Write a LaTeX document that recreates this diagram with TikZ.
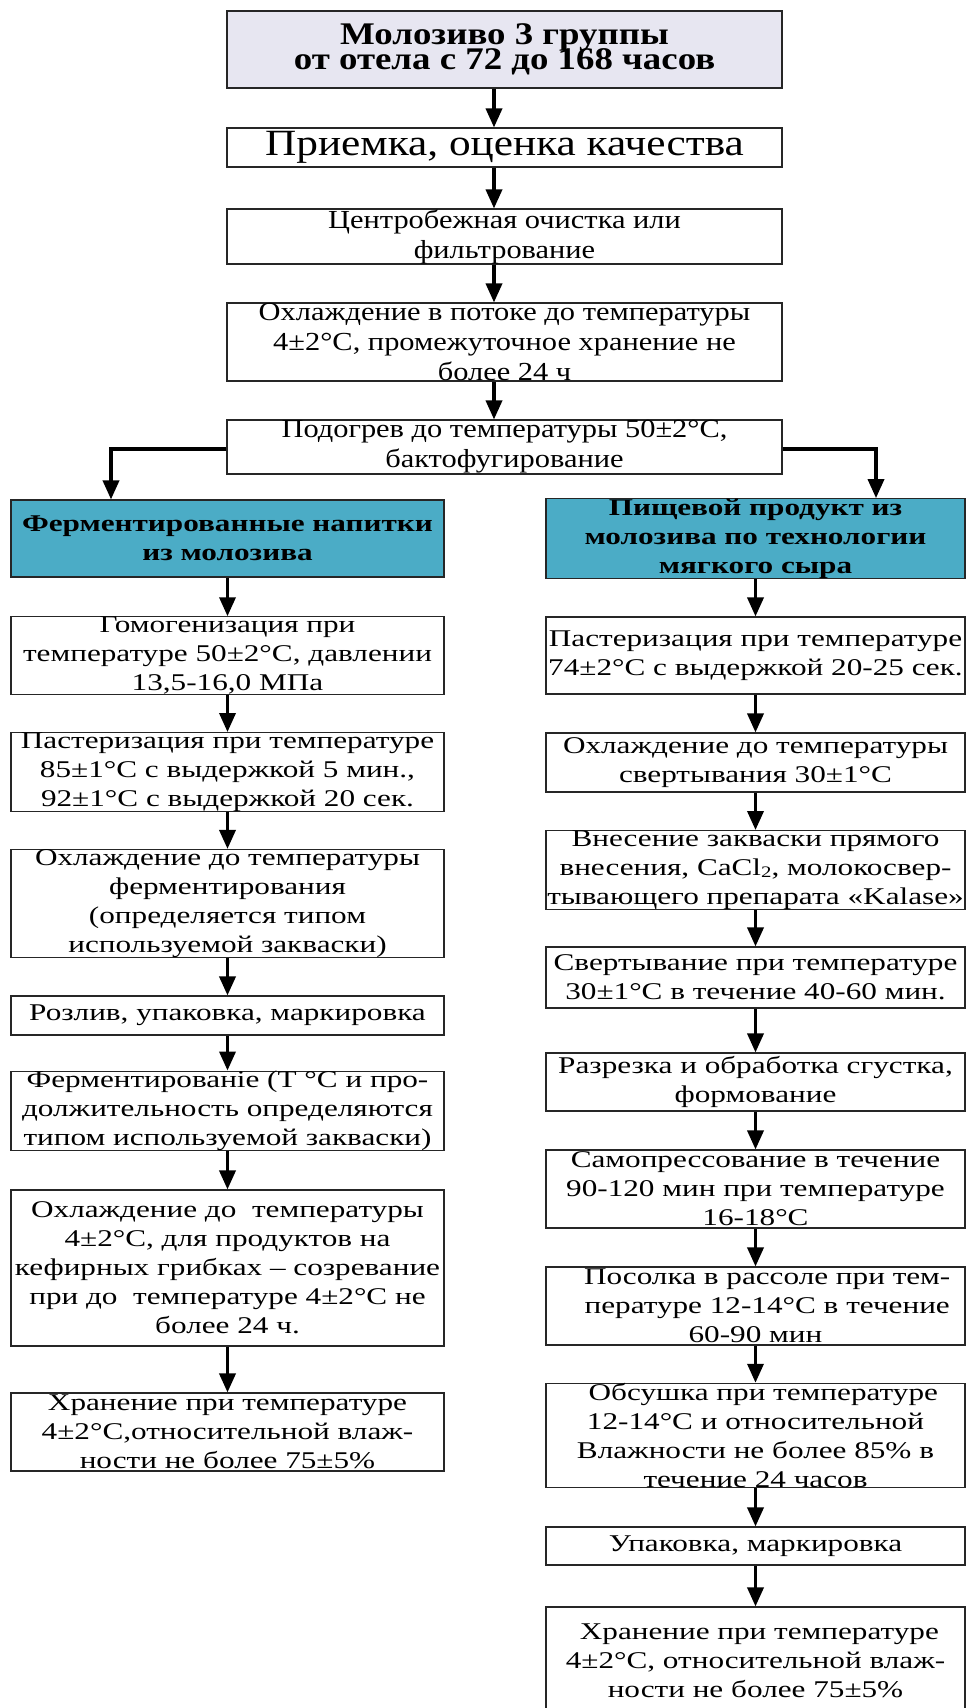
\documentclass[tikz,border=0pt]{standalone}
\usepackage{fontspec}
\setmainfont{Liberation Serif}
\newfontfamily\topfont[FakeStretch=1.17]{Liberation Serif}
\newfontfamily\colfont[FakeStretch=1.3]{Liberation Serif}
\usetikzlibrary{arrows.meta}
\definecolor{titlegray}{RGB}{231,230,241}
\definecolor{branchblue}{RGB}{75,172,198}
\newcommand\tightskip{\lineskiplimit=-40pt\relax}

\begin{document}
\begin{tikzpicture}[x=1pt, y=-1pt]
   \tikzstyle{stepbox}=[draw=black!85, line width=1.1pt, inner sep=0pt, align=center, fill=white]
   \tikzstyle{topstep}=[stepbox, minimum width=555pt, font=\topfont\fontsize{26}{30}\selectfont]
   \tikzstyle{leftstep}=[stepbox, minimum width=433pt, font=\colfont\fontsize{24}{29}\selectfont]
   \tikzstyle{rightstep}=[stepbox, minimum width=419pt, font=\colfont\fontsize{24}{29}\selectfont]
   \tikzstyle{branch}=[fill=branchblue, font=\colfont\bfseries\fontsize{24}{29}\selectfont\tightskip]
   \tikzstyle{arr}=[line width=3.5pt, -{Triangle[width=16pt,length=19pt]}]

\useasboundingbox (0,0) rectangle (966,1708);

% common part
\node[topstep, fill=titlegray, minimum height=77pt, font=\topfont\bfseries\fontsize{31.5}{25}\selectfont\tightskip] (title) at (504.5,49.5) {Молозиво 3 группы\\от отела с 72 до 168 часов};
\node[topstep, minimum height=39pt, font=\topfont\fontsize{37}{40}\selectfont] (recv) at (504.5,147.5) {Приемка, оценка качества};
\node[topstep, minimum height=55pt] (centr) at (504.5,236.5) {Центробежная очистка или\\фильтрование};
\node[topstep, minimum height=78pt] (cool) at (504.5,342) {Охлаждение в потоке до температуры\\4±2°С, промежуточное хранение не\\более 24 ч};
\node[topstep, minimum height=54pt] (heat) at (504.5,447) {Подогрев до температуры 50±2°С,\\бактофугирование};

% fermented drinks
\node[leftstep, branch, minimum height=77pt] (drinks) at (227.5,538.5) {Ферментированные напитки\\из молозива};
\node[leftstep, minimum height=77pt] (homog) at (227.5,655.5) {Гомогенизация при\\температуре 50±2°С, давлении\\13,5-16,0 МПа};
\node[leftstep, minimum height=78pt] (pastL) at (227.5,772) {Пастеризация при температуре\\85±1°С с выдержкой 5 мин.,\\92±1°С с выдержкой 20 сек.};
\node[leftstep, minimum height=107pt] (coolF) at (227.5,903.5) {Охлаждение до температуры\\ферментирования\\(определяется типом\\используемой закваски)};
\node[leftstep, minimum height=39pt] (bottle) at (227.5,1015.5) {Розлив, упаковка, маркировка};
\node[leftstep, minimum height=78pt] (ferm) at (227.5,1111) {Ферментированіе (Т °С и про-\\должительность определяются\\типом используемой закваски)};
\node[leftstep, minimum height=156pt] (coolK) at (227.5,1268) {Охлаждение до\ \ температуры\\4±2°С, для продуктов на\\кефирных грибках – созревание\\при до\ \ температуре 4±2°С не\\более 24 ч.};
\node[leftstep, minimum height=78pt] (storeL) at (227.5,1432) {Хранение при температуре\\4±2°С,относительной влаж-\\ности не более 75±5\%};

% soft cheese
\node[rightstep, branch, minimum height=77pt] (cheese) at (755.5,538.5) {Пищевой продукт из\\молозива по технологии\\мягкого сыра};
\node[rightstep, minimum height=77pt] (pastR) at (755.5,655.5) {Пастеризация при температуре\\74±2°С с выдержкой 20-25 сек.};
\node[rightstep, minimum height=59pt] (coolC) at (755.5,762.5) {Охлаждение до температуры\\свертывания 30±1°С};
\node[rightstep, minimum height=78pt] (starter) at (755.5,870) {Внесение закваски прямого\\внесения, CaCl\raisebox{-2pt}{\fontsize{16}{16}\selectfont 2}, молокосвер-\\тывающего препарата «Kalase»};
\node[rightstep, minimum height=61pt] (curd) at (755.5,977.5) {Свертывание при температуре\\30±1°С в течение 40-60 мин.};
\node[rightstep, minimum height=58pt] (cut) at (755.5,1082) {Разрезка и обработка сгустка,\\формование};
\node[rightstep, minimum height=78pt] (press) at (755.5,1189) {Самопрессование в течение\\90-120 мин при температуре\\16-18°С};
\node[rightstep, minimum height=78pt] (salt) at (755.5,1306) {\ \ \ Посолка в рассоле при тем-\\\ \ \ пературе 12-14°С в течение\\60-90 мин};
\node[rightstep, minimum height=103pt] (dry) at (755.5,1435.5) {\ \ Обсушка при температуре\\12-14°С и относительной\\Влажности не более 85\% в\\течение 24 часов};
\node[rightstep, minimum height=38pt] (pack) at (755.5,1546) {Упаковка, маркировка};
\node[rightstep, minimum height=108pt] (storeR) at (755.5,1661) {\ Хранение при температуре\\4±2°С, относительной влаж-\\ности не более 75±5\%};

% arrows
\draw[arr] ([xshift=-10.5pt]title.south) -- ([xshift=-10.5pt]recv.north);
\draw[arr] ([xshift=-10.5pt]recv.south) -- ([xshift=-10.5pt]centr.north);
\draw[arr] ([xshift=-10.5pt]centr.south) -- ([xshift=-10.5pt]cool.north);
\draw[arr] ([xshift=-10.5pt]cool.south) -- ([xshift=-10.5pt]heat.north);
\draw[arr] ([yshift=-2pt]heat.west) -| ([xshift=-116.5pt]drinks.north);
\draw[arr] ([yshift=-2pt]heat.east) -| ([xshift=120.5pt]cheese.north);

\draw[arr] (drinks) -- (homog);
\draw[arr] (homog) -- (pastL);
\draw[arr] (pastL) -- (coolF);
\draw[arr] (coolF) -- (bottle);
\draw[arr] (bottle) -- (ferm);
\draw[arr] (ferm) -- (coolK);
\draw[arr] (coolK) -- (storeL);

\draw[arr] (cheese) -- (pastR);
\draw[arr] (pastR) -- (coolC);
\draw[arr] (coolC) -- (starter);
\draw[arr] (starter) -- (curd);
\draw[arr] (curd) -- (cut);
\draw[arr] (cut) -- (press);
\draw[arr] (press) -- (salt);
\draw[arr] (salt) -- (dry);
\draw[arr] (dry) -- (pack);
\draw[arr] (pack) -- (storeR);

\end{tikzpicture}
\end{document}
